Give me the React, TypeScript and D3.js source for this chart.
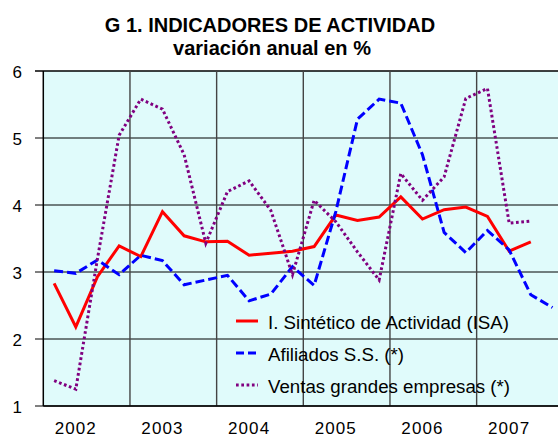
import React from "react";
import * as d3 from "d3";

const years = ["2002", "2003", "2004", "2005", "2006", "2007"];
const yTicks = [1, 2, 3, 4, 5, 6];
const isa = [2.83, 2.18, 2.93, 3.39, 3.23, 3.9, 3.54, 3.45, 3.46, 3.25, 3.28, 3.31, 3.38, 3.85, 3.77, 3.82, 4.12, 3.79, 3.93, 3.97, 3.83, 3.31, 3.45];
const afiliados = [3.02, 2.98, 3.18, 2.96, 3.25, 3.17, 2.81, 2.88, 2.95, 2.57, 2.67, 3.08, 2.8, 3.9, 5.28, 5.58, 5.52, 4.75, 3.59, 3.29, 3.62, 3.33, 2.66, 2.47];
const ventas = [1.38, 1.25, 3.2, 5.04, 5.58, 5.43, 4.75, 3.43, 4.2, 4.36, 3.92, 2.96, 4.07, 3.75, 3.3, 2.88, 4.47, 4.07, 4.42, 5.59, 5.74, 3.73, 3.76];
const seriesNames = ["I. Sintético de Actividad (ISA)", "Afiliados S.S. (*)", "Ventas grandes empresas (*)"];

const W = 558;
const H = 437;
const FONT = "'Liberation Sans', Arial, Helvetica, sans-serif";

export default function App() {
  const left = 43.3;
  const top = 71;
  const bottom = 406;
  const right = 563.3;
  const x = d3.scaleLinear().domain([0, 24]).range([left, right]);
  const y = d3.scaleLinear().domain([1, 6]).range([bottom, top]);
  const line = d3
    .line<number>()
    .x((_, i) => x(i + 0.5))
    .y((d) => y(d));

  const styles = [
    { color: "#FF0000", dash: undefined as string | undefined, data: isa },
    { color: "#0000FF", dash: "9,4", data: afiliados },
    { color: "#800080", dash: "2.7,2.6", data: ventas },
  ];

  return (
    <svg width={W} height={H} style={{ position: "absolute", left: 0, top: 0, background: "#fff" }} fontFamily={FONT}>
      <text x={270} y={32} textAnchor="middle" fontSize={20} fontWeight="bold" fill="#000">
        G 1. INDICADORES DE ACTIVIDAD
      </text>
      <text x={272} y={55} textAnchor="middle" fontSize={20} fontWeight="bold" fill="#000">
        variación anual en %
      </text>
      <rect x={left} y={top} width={right - left} height={bottom - top} fill="#E0FBFB" />
      {yTicks.map((t) => (
        <line key={"h" + t} x1={35} x2={right} y1={y(t)} y2={y(t)} stroke="#000" strokeWidth={t === 6 ? 1.5 : 1} />
      ))}
      {[4, 8, 12, 16, 20].map((i) => (
        <line key={"v" + i} x1={x(i)} x2={x(i)} y1={top} y2={bottom} stroke="#444" strokeWidth={1.4} />
      ))}
      <line x1={left} x2={left} y1={top} y2={bottom} stroke="#000" strokeWidth={1.5} />
      <line x1={left} x2={right} y1={bottom} y2={bottom} stroke="#000" strokeWidth={1.5} />
      {yTicks.map((t) => (
        <text key={"yl" + t} x={22} y={y(t) + 7} textAnchor="end" fontSize={17} fill="#000">
          {t}
        </text>
      ))}
      {years.map((yr, k) => (
        <text key={yr} x={x(4 * k + 1.5)} y={434} textAnchor="middle" fontSize={17} letterSpacing={1.1} fill="#000">
          {yr}
        </text>
      ))}
      {styles.map((s, k) => (
        <path key={"s" + k} d={line(s.data) || ""} fill="none" stroke={s.color} strokeWidth={3} strokeDasharray={s.dash} strokeLinejoin="miter" />
      ))}
      {styles.map((s, k) => (
        <g key={"lg" + k}>
          <line x1={236} x2={258} y1={321 + k * 32} y2={321 + k * 32} stroke={s.color} strokeWidth={3} strokeDasharray={s.dash === "9,4" ? "8,4" : s.dash} />
          <text x={268} y={329 + k * 32} fontSize={18.7} fill="#000">
            {seriesNames[k]}
          </text>
        </g>
      ))}
    </svg>
  );
}
